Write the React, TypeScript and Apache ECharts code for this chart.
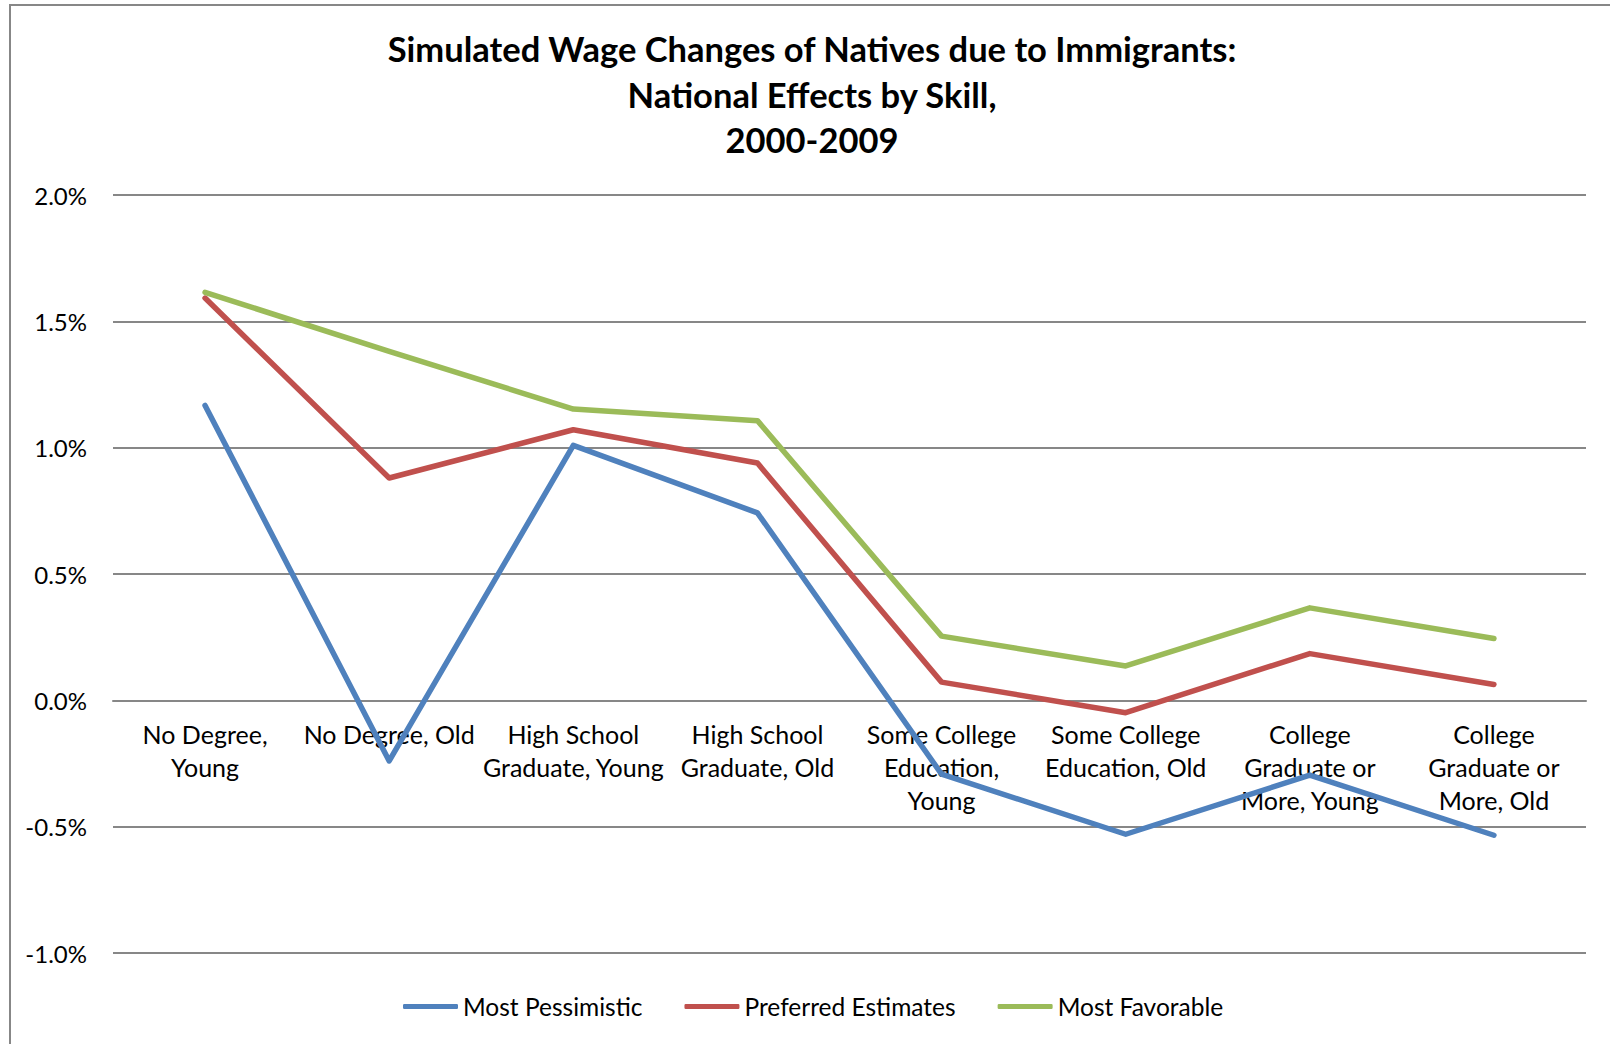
import React, { useEffect, useRef } from "react";
import * as echarts from "echarts";

const categories = [
  "No Degree,\nYoung",
  "No Degree, Old",
  "High School\nGraduate, Young",
  "High School\nGraduate, Old",
  "Some College\nEducation,\nYoung",
  "Some College\nEducation, Old",
  "College\nGraduate or\nMore, Young",
  "College\nGraduate or\nMore, Old",
];

const mostPessimistic = [1.167, -0.24, 1.009, 0.742, -0.292, -0.53, -0.296, -0.534];
const preferredEstimates = [1.592, 0.88, 1.071, 0.939, 0.072, -0.049, 0.185, 0.063];
const mostFavorable = [1.615, 1.381, 1.153, 1.107, 0.254, 0.136, 0.366, 0.245];

const seriesNames = ["Most Pessimistic", "Preferred Estimates", "Most Favorable"];
const seriesColors = ["#4F81BD", "#C0504D", "#9BBB59"];

const titleText =
  "Simulated Wage Changes of Natives due to Immigrants:\nNational Effects by Skill,\n2000-2009";

const FONT = "Lato";

const Y_MIN = -1;
const Y_MAX = 2;

export default function App() {
  const ref = useRef<HTMLDivElement>(null);
  useEffect(() => {
    if (!ref.current) return;
    const chart = echarts.init(ref.current, undefined, { renderer: "svg" });
    const data = [mostPessimistic, preferredEstimates, mostFavorable];
    const gridTop = 195;
    const gridBottom = 91;
    const gridH = 1044 - gridTop - gridBottom;
    const zeroOffset = -(gridH * (0 - Y_MIN)) / (Y_MAX - Y_MIN);
    chart.setOption({
      animation: false,
      backgroundColor: "#ffffff",
      textStyle: { fontFamily: FONT },
      title: {
        text: titleText,
        left: 807,
        textAlign: "center",
        top: 21,
        textStyle: {
          fontFamily: FONT,
          fontWeight: "bold",
          fontSize: 34.5,
          lineHeight: 45.5,
          color: "#000",
        },
      },
      graphic: [
        {
          type: "rect",
          shape: { x: 10, y: 5, width: 1700, height: 1200 },
          style: { fill: "none", stroke: "#878787", lineWidth: 2 },
          silent: true,
        },
      ],
      legend: {
        left: 398,
        top: 989,
        itemWidth: 55,
        itemHeight: 5,
        itemGap: 42,
        icon: "roundRect",
        textStyle: { fontFamily: FONT, fontSize: 24.5, color: "#000" },
        data: seriesNames,
      },
      grid: {
        left: 113,
        right: 24,
        top: gridTop,
        bottom: gridBottom,
        containLabel: false,
        outerBoundsMode: "none",
      },
      xAxis: {
        type: "category",
        data: categories,
        boundaryGap: true,
        offset: zeroOffset,
        axisTick: { show: false },
        axisLine: { show: true, onZero: false, lineStyle: { color: "#878787", width: 2 } },
        axisLabel: {
          interval: 0,
          margin: 17,
          fontFamily: FONT,
          fontSize: 25,
          lineHeight: 33,
          color: "#000",
        },
      },
      yAxis: {
        type: "value",
        min: Y_MIN,
        max: Y_MAX,
        interval: 0.5,
        axisLine: { show: false },
        axisTick: { show: false },
        splitLine: { lineStyle: { color: "#878787", width: 2 } },
        axisLabel: {
          margin: 26,
          fontFamily: FONT,
          fontSize: 24,
          color: "#000",
          formatter: (v: number) => v.toFixed(1) + "%",
        },
      },
      series: data.map((d, i) => ({
        name: seriesNames[i],
        type: "line",
        data: d,
        showSymbol: false,
        symbol: "none",
        color: seriesColors[i],
        lineStyle: { width: 5.5, color: seriesColors[i], cap: "round", join: "round" },
        z: 3 + i,
      })),
    });
    return () => chart.dispose();
  }, []);
  return (
    <div
      ref={ref}
      style={{ position: "fixed", left: 0, top: 0, width: 1610, height: 1044 }}
    />
  );
}
